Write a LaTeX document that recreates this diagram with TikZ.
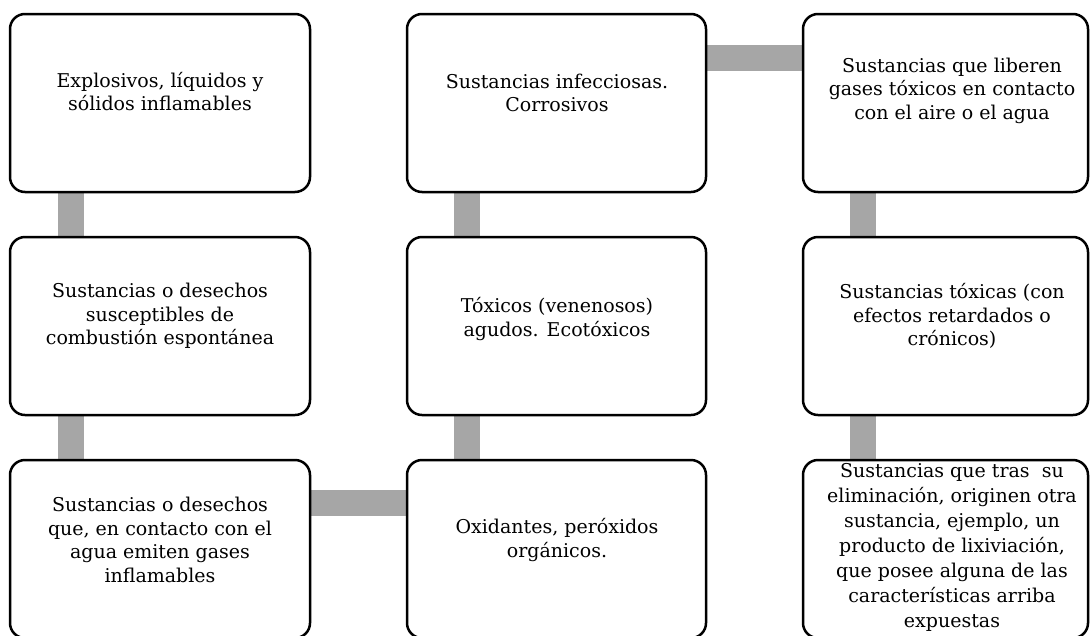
\documentclass[tikz,border=0pt]{standalone}
\usepackage{fontspec}
\setmainfont{DejaVu Serif}
\usetikzlibrary{backgrounds}
\definecolor{conngray}{RGB}{166,166,166}
\tikzset{
  box/.style={draw=black, line width=2.5pt, rounded corners=15pt, fill=white, inner sep=0pt},
  txt/.style={align=center, inner sep=0pt, font=\fontsize{19}{23.5}\selectfont},
  conn/.style={draw=conngray, line width=26pt},
}
\begin{document}
\begin{tikzpicture}[x=1pt,y=-1pt]
\useasboundingbox (0,0) rectangle (1091,635);
\clip (0,0) rectangle (1091,635);
% boxes
\node[box, minimum width=300pt, minimum height=178pt] (b1) at (160,103) {};
\node[box, minimum width=300pt, minimum height=178pt] (b2) at (160,326) {};
\node[box, minimum width=300pt, minimum height=178pt] (b3) at (160,549) {};
\node[box, minimum width=299pt, minimum height=178pt] (b4) at (556.5,103) {};
\node[box, minimum width=299pt, minimum height=178pt] (b5) at (556.5,326) {};
\node[box, minimum width=299pt, minimum height=178pt] (b6) at (556.5,549) {};
\node[box, minimum width=285pt, minimum height=178pt] (b7) at (945.5,103) {};
\node[box, minimum width=285pt, minimum height=178pt] (b8) at (945.5,326) {};
\node[box, minimum width=285pt, minimum height=178pt] (b9) at (945.5,549) {};
% connectors
\begin{scope}[on background layer]
\draw[conn] ([xshift=62.5pt]b1.south west) -- ([xshift=62.5pt]b2.north west);
\draw[conn] ([xshift=62.5pt]b2.south west) -- ([xshift=62.5pt]b3.north west);
\draw[conn] ([yshift=-44pt]b3.north east) -- ([yshift=-44pt]b6.north west);
\draw[conn] ([xshift=61.5pt]b6.north west) -- ([xshift=61.5pt]b5.south west);
\draw[conn] ([xshift=61.5pt]b5.north west) -- ([xshift=61.5pt]b4.south west);
\draw[conn] ([yshift=-45pt]b4.north east) -- ([yshift=-45pt]b7.north west);
\draw[conn] ([xshift=61.5pt]b7.south west) -- ([xshift=61.5pt]b8.north west);
\draw[conn] ([xshift=61.5pt]b8.south west) -- ([xshift=61.5pt]b9.north west);
\end{scope}
% texts
\node[txt] (t1) at (160,91.5) {Explosivos, líquidos y\\sólidos inflamables};
\node[txt] (t2) at (160,316) {Sustancias o desechos\\susceptibles de\\combustión espontánea};
\node[txt] (t3) at (160,540) {Sustancias o desechos\\que, en contacto con el\\agua emiten gases\\inflamables};
\node[txt] (t4) at (557,93) {Sustancias infecciosas.\\Corrosivos};
\node[txt] (t5) at (557,319) {Tóxicos (venenosos)\\agudos. Ecotóxicos};
\node[txt] (t6) at (557,540) {Oxidantes, peróxidos\\orgánicos.};
\node[txt] (t7) at (952,90.5) {Sustancias que liberen\\gases tóxicos en contacto\\con el aire o el agua};
\node[txt] (t8) at (952,316) {Sustancias tóxicas (con\\efectos retardados o\\crónicos)};
\node[txt, font=\fontsize{19}{25}\selectfont] (t9) at (952,547.5) {Sustancias que tras~ su\\eliminación, originen otra\\sustancia, ejemplo, un\\producto de lixiviación,\\que posee alguna de las\\características arriba\\expuestas};
\end{tikzpicture}
\end{document}
